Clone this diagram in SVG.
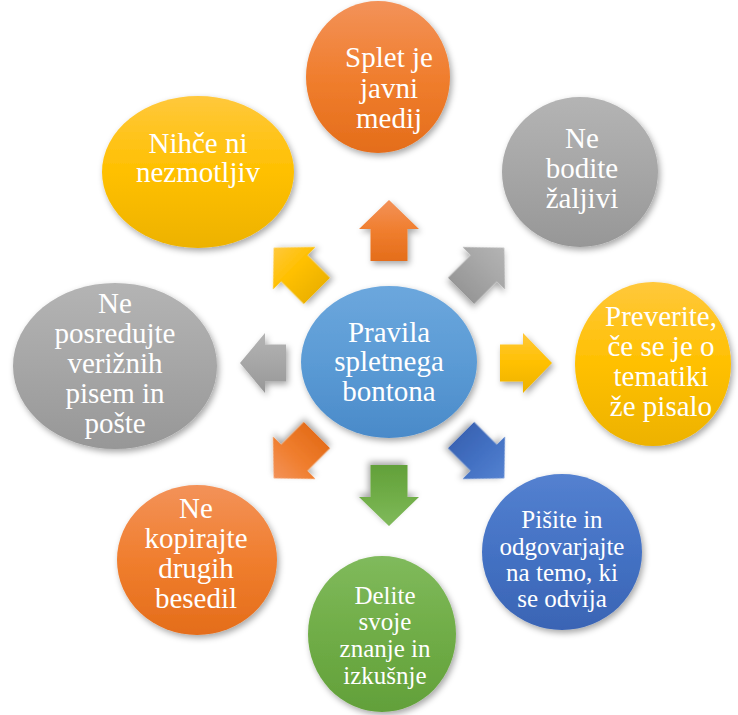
<svg xmlns="http://www.w3.org/2000/svg" width="738" height="715" viewBox="0 0 738 715">
<defs>
<filter id="sh" x="-20%" y="-20%" width="140%" height="140%"><feDropShadow dx="2" dy="3" stdDeviation="3" flood-color="#000" flood-opacity="0.35"/></filter>
<linearGradient id="gOr" x1="0" y1="0" x2="0" y2="1"><stop offset="0" stop-color="#F39259"/><stop offset="0.5" stop-color="#F07E2E"/><stop offset="1" stop-color="#E46D1A"/></linearGradient>
<linearGradient id="gGy" x1="0" y1="0" x2="0" y2="1"><stop offset="0" stop-color="#B4B4B4"/><stop offset="0.5" stop-color="#A6A6A6"/><stop offset="1" stop-color="#979797"/></linearGradient>
<linearGradient id="gYe" x1="0" y1="0" x2="0" y2="1"><stop offset="0" stop-color="#FFC83C"/><stop offset="0.5" stop-color="#FFC000"/><stop offset="1" stop-color="#EDB200"/></linearGradient>
<linearGradient id="gBl" x1="0" y1="0" x2="0" y2="1"><stop offset="0" stop-color="#6CA7DD"/><stop offset="0.5" stop-color="#5B9BD5"/><stop offset="1" stop-color="#4A8AC9"/></linearGradient>
<linearGradient id="gDb" x1="0" y1="0" x2="0" y2="1"><stop offset="0" stop-color="#5481D0"/><stop offset="0.5" stop-color="#4472C4"/><stop offset="1" stop-color="#3A64B4"/></linearGradient>
<linearGradient id="gGr" x1="0" y1="0" x2="0" y2="1"><stop offset="0" stop-color="#80BA5C"/><stop offset="0.5" stop-color="#70AD47"/><stop offset="1" stop-color="#62A03A"/></linearGradient>
<path id="arr" d="M-18.5,-102 L-18.5,-134 L-30,-134 L0,-163 L30,-134 L18.5,-134 L18.5,-102 Z"/>
</defs>
<style>
.t{font-family:"Liberation Serif","Times New Roman",serif;fill:#fff;text-anchor:middle;font-size:29px}
.s{font-size:25px}
.sd{filter:url(#sh)}
</style>
<rect width="738" height="715" fill="#fff"/>
<g id="connectors">
<use class="sd" href="#arr" fill="url(#gOr)" transform="translate(389,363)"/>
<use class="sd" href="#arr" fill="url(#gGy)" transform="translate(389,363) rotate(45)"/>
<path class="sd" fill="url(#gYe)" d="M500,344.5 L523,344.5 L523,333 L552,363 L523,393 L523,381.5 L500,381.5 Z"/>
<use class="sd" href="#arr" fill="url(#gDb)" transform="translate(389,363) rotate(135)"/>
<use class="sd" href="#arr" fill="url(#gGr)" transform="translate(389,363) rotate(180)"/>
<use class="sd" href="#arr" fill="url(#gOr)" transform="translate(389,363) rotate(225)"/>
<path class="sd" fill="url(#gGy)" d="M286,344.5 L265,344.5 L265,333 L240,363 L265,393 L265,381.5 L286,381.5 Z"/>
<use class="sd" href="#arr" fill="url(#gYe)" transform="translate(389,363) rotate(315)"/>
</g>
<g id="center">
<ellipse class="sd" cx="389" cy="362" rx="88" ry="76" fill="url(#gBl)"/>
<text class="t"><tspan x="389" y="342">Pravila</tspan><tspan x="389" y="371">spletnega</tspan><tspan x="389" y="401">bontona</tspan></text>
</g>
<g id="n1">
<ellipse class="sd" cx="378" cy="77" rx="72" ry="76" fill="url(#gOr)"/>
<text class="t"><tspan x="389" y="67">Splet je</tspan><tspan x="389" y="98">javni</tspan><tspan x="389" y="128">medij</tspan></text>
</g>
<g id="n2">
<ellipse class="sd" cx="580" cy="172" rx="78" ry="75" fill="url(#gGy)"/>
<text class="t"><tspan x="582" y="148">Ne</tspan><tspan x="582" y="178">bodite</tspan><tspan x="582" y="208">žaljivi</tspan></text>
</g>
<g id="n3">
<ellipse class="sd" cx="653" cy="364" rx="78" ry="82" fill="url(#gYe)"/>
<text class="t"><tspan x="661" y="326">Preverite,</tspan><tspan x="661" y="356">če se je o</tspan><tspan x="661" y="386">tematiki</tspan><tspan x="661" y="416">že pisalo</tspan></text>
</g>
<g id="n4">
<ellipse class="sd" cx="562" cy="552" rx="80" ry="78" fill="url(#gDb)"/>
<text class="t s"><tspan x="562" y="528">Pišite in</tspan><tspan x="562" y="555">odgovarjajte</tspan><tspan x="562" y="581">na temo, ki</tspan><tspan x="562" y="607">se odvija</tspan></text>
</g>
<g id="n5">
<ellipse class="sd" cx="382" cy="634" rx="74" ry="78" fill="url(#gGr)"/>
<text class="t s"><tspan x="385" y="604">Delite</tspan><tspan x="385" y="630">svoje</tspan><tspan x="385" y="657">znanje in</tspan><tspan x="385" y="684">izkušnje</tspan></text>
</g>
<g id="n6">
<ellipse class="sd" cx="197" cy="560" rx="80" ry="75" fill="url(#gOr)"/>
<text class="t"><tspan x="196" y="518">Ne</tspan><tspan x="196" y="548">kopirajte</tspan><tspan x="196" y="578">drugih</tspan><tspan x="196" y="608">besedil</tspan></text>
</g>
<g id="n7">
<ellipse class="sd" cx="115" cy="366" rx="102" ry="83" fill="url(#gGy)"/>
<text class="t"><tspan x="115" y="313">Ne</tspan><tspan x="115" y="343">posredujte</tspan><tspan x="115" y="373">verižnih</tspan><tspan x="115" y="403">pisem in</tspan><tspan x="115" y="433">pošte</tspan></text>
</g>
<g id="n8">
<ellipse class="sd" cx="198" cy="172" rx="96" ry="76" fill="url(#gYe)"/>
<text class="t"><tspan x="198" y="153">Nihče ni</tspan><tspan x="198" y="182">nezmotljiv</tspan></text>
</g>
</svg>
